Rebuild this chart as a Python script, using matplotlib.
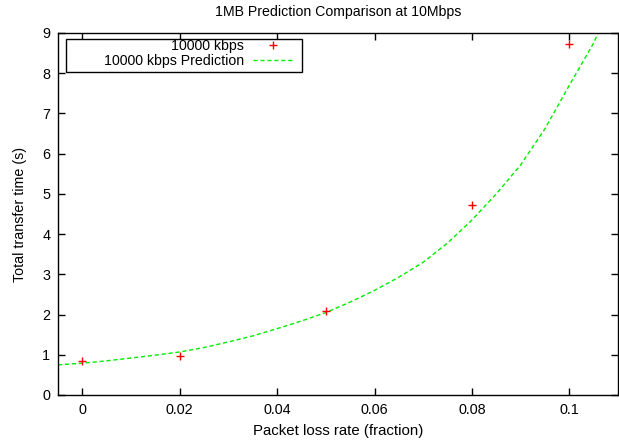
import matplotlib
matplotlib.use("Agg")
import matplotlib.pyplot as plt
from matplotlib.patches import Rectangle

# Measured data
loss_rate = [0.0, 0.02, 0.05, 0.08, 0.1]
transfer_time = [0.85, 0.97, 2.08, 4.73, 8.72]

# Prediction curve
pred_x = [-0.005, 0.0, 0.005, 0.01, 0.015, 0.02, 0.025, 0.03, 0.035, 0.04, 0.045,
          0.05, 0.055, 0.06, 0.065, 0.07, 0.075, 0.08, 0.085, 0.09, 0.095, 0.1,
          0.105, 0.11]
pred_y = [0.75, 0.79, 0.85, 0.92, 0.99, 1.07, 1.18, 1.32, 1.47, 1.65, 1.84,
          2.05, 2.31, 2.6, 2.93, 3.3, 3.78, 4.35, 5.0, 5.72, 6.62, 7.7,
          8.75, 10.1]

x_ticks = [0, 0.02, 0.04, 0.06, 0.08, 0.1]
x_tick_labels = ["0", "0.02", "0.04", "0.06", "0.08", "0.1"]
y_ticks = [0, 1, 2, 3, 4, 5, 6, 7, 8, 9]

plt.rcParams['font.family'] = ['Liberation Sans', 'DejaVu Sans']
plt.rcParams['font.size'] = 10.3

fig = plt.figure(figsize=(6.19, 4.43), dpi=100)
ax = fig.add_axes([58/619, 1-395/443, (618-58)/619, (395-33)/443])

ax.plot(loss_rate, transfer_time, linestyle='none', marker='+', color='#ff0000',
        markersize=6, markeredgewidth=1.0, label='10000 kbps', zorder=3)
ax.plot(pred_x, pred_y, linestyle=(0, (3, 2)), color='#00ee00', linewidth=1.0,
        label='10000 kbps Prediction', zorder=2)

ax.set_xlim(-0.005, 0.11)
ax.set_ylim(0, 9)
ax.set_xticks(x_ticks)
ax.set_xticklabels(x_tick_labels)
ax.set_yticks(y_ticks)
ax.tick_params(direction='in', length=5, width=1, top=True, right=True,
               labelsize=10.4)
ax.tick_params(axis='y', pad=5.5)
ax.tick_params(axis='x', pad=6)
for s in ax.spines.values():
    s.set_linewidth(1.0)

ax.set_title('1MB Prediction Comparison at 10Mbps', fontsize=10.2, pad=12)
ax.set_xlabel('Packet loss rate (fraction)', fontsize=10.8, labelpad=5)
ax.set_ylabel('Total transfer time (s)', fontsize=10.3, labelpad=11)

# legend frame (gnuplot-style box)
ax.add_patch(Rectangle((0.0143, 0.8923), 0.4357-0.0143, 0.9834-0.8923,
                       transform=ax.transAxes, fill=True, facecolor='white',
                       edgecolor='black', linewidth=1.0, zorder=4))
leg = ax.legend(loc='upper right', bbox_to_anchor=(0.4214, 0.983),
                frameon=False, markerfirst=False, borderpad=0, borderaxespad=0,
                handlelength=2.9, handletextpad=0.65, labelspacing=0.05,
                fontsize=10.2)
leg.set_zorder(5)

fig.savefig('out.png', dpi=100)
